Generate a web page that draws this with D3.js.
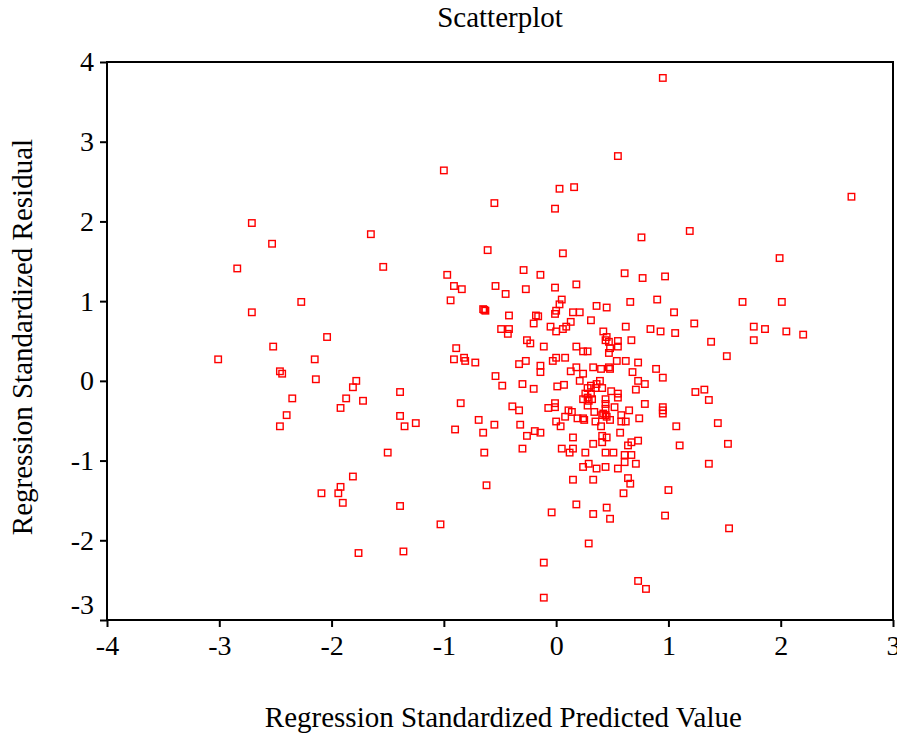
<!DOCTYPE html>
<html>
<head>
<meta charset="utf-8">
<script src="https://cdnjs.cloudflare.com/ajax/libs/d3/7.8.5/d3.min.js"></script>
<style>
  body { margin: 0; background: #fff; }
  text { font-family: "Liberation Serif", "Times New Roman", serif; fill: #000; }
</style>
</head>
<body>
<div id="chart"></div>
<script>
var title = "Scatterplot";
var xTitle = "Regression Standardized Predicted Value";
var yTitle = "Regression Standardized Residual";
var xTicks = [-4, -3, -2, -1, 0, 1, 2, 3];
var yTicks = [-3, -2, -1, 0, 1, 2, 3, 4];

// standardized predicted value (x) of each case
var predicted = [
  -2.71,-2.53,-2.84,-2.27,-2.71,-2.04,-2.52,-3.01,-2.15,-2.46,
  -2.44,-2.14,-2.35,-1.87,-1.92,-2.40,-2.46,-1.81,-1.92,-2.09,
  -1.94,-1.90,-1.78,-1.81,-1.72,-1.39,-1.00,-0.55,-1.65,-0.61,
  -1.54,-0.29,-0.14,-0.97,-0.91,-0.84,-0.54,-0.45,-0.27,-0.94,
  -0.64,-0.65,-0.63,-0.42,-0.18,-0.16,-0.20,-0.05,-0.49,-0.42,
  -0.43,-0.26,-0.23,-0.11,-0.89,-0.91,-0.82,-0.81,-0.72,-0.33,
  -0.27,-0.14,-0.14,-0.54,-0.48,-0.30,-0.20,-0.85,-0.39,-0.33,
  -0.07,-1.39,-1.35,-1.25,-0.69,-0.65,-0.55,-0.90,-0.32,-0.26,
  -0.19,-0.14,-1.50,-0.64,-0.30,-0.62,-1.39,-1.03,-0.04,-1.76,
  -1.36,-0.11,-0.11,0.03,0.16,-0.01,0.06,-0.01,0.05,0.03,
  0.00,-0.01,0.00,0.06,0.09,0.00,0.08,-0.03,0.01,0.07,
  -0.01,-0.01,0.00,0.04,0.05,0.11,0.14,0.08,0.61,0.77,
  0.97,0.18,0.36,0.45,0.66,0.90,1.05,0.15,0.21,0.13,
  0.31,1.23,0.62,0.84,0.93,1.06,0.42,0.44,0.45,0.47,
  0.55,0.67,1.38,0.18,0.24,0.28,0.48,0.55,0.47,1.52,
  0.54,0.62,0.73,0.18,0.13,0.33,0.40,0.47,0.48,0.24,
  0.68,0.89,0.95,0.73,0.79,0.21,0.39,0.36,0.31,0.28,
  0.41,0.35,0.49,0.71,1.32,1.24,0.55,0.55,0.44,0.44,
  0.44,0.24,0.28,0.32,0.31,0.26,0.28,0.29,0.34,0.52,
  0.65,0.79,0.95,0.95,0.95,0.58,0.58,0.62,0.74,0.42,
  0.44,0.45,0.41,0.48,0.24,0.25,0.19,0.35,0.40,1.07,
  1.44,0.57,0.15,0.41,0.45,0.33,0.41,0.67,0.73,0.64,
  1.10,1.53,0.12,0.15,0.26,0.44,0.51,0.61,0.67,0.61,
  0.71,1.36,0.29,0.24,0.36,0.44,0.55,0.15,0.33,0.64,
  0.66,0.60,1.00,0.18,0.45,0.33,0.48,0.97,1.36,0.29,
  0.73,0.80,0.95,0.55,2.63,1.19,0.76,1.99,1.66,2.01,
  1.76,1.86,2.05,2.20,1.76,1.54
];

// standardized residual (y) of each case, same order
var residual = [
  1.98,1.72,1.41,0.99,0.86,0.55,0.43,0.27,0.27,0.12,
  0.09,0.02,-0.22,-0.22,-0.34,-0.43,-0.57,-1.20,-1.33,-1.41,
  -1.41,-1.53,0.00,-0.08,-0.25,-0.14,2.64,2.23,1.84,1.64,
  1.43,1.39,1.33,1.33,1.19,1.15,1.19,1.09,1.15,1.01,
  0.89,0.90,0.88,0.82,0.82,0.81,0.72,0.68,0.65,0.65,
  0.59,0.51,0.47,0.43,0.41,0.27,0.29,0.25,0.23,0.21,
  0.25,0.19,0.11,0.06,-0.06,-0.04,-0.10,-0.28,-0.32,-0.37,
  -0.34,-0.44,-0.57,-0.53,-0.49,-0.65,-0.55,-0.61,-0.55,-0.69,
  -0.63,-0.65,-0.90,-0.90,-0.85,-1.31,-1.57,-1.80,-1.65,-2.16,
  -2.14,-2.28,-2.72,2.41,2.43,2.16,1.60,1.17,1.02,0.96,
  0.88,0.84,0.62,0.65,0.68,0.29,0.29,0.25,-0.07,-0.05,
  -0.28,-0.33,-0.51,-0.57,-0.85,-0.37,-0.39,-0.45,1.35,1.29,
  1.31,1.21,0.94,0.92,0.99,1.02,0.86,0.86,0.86,0.74,
  0.76,0.72,0.68,0.65,0.62,0.60,0.62,0.51,0.55,0.49,
  0.50,0.51,0.49,0.43,0.37,0.37,0.41,0.43,0.35,0.31,
  0.25,0.25,0.23,0.17,0.12,0.17,0.15,0.17,0.15,0.09,
  0.11,0.15,0.04,0.00,-0.04,0.00,0.00,-0.04,-0.06,-0.09,
  -0.09,-0.09,-0.13,-0.11,-0.11,-0.14,-0.16,-0.21,-0.23,-0.29,
  -0.35,-0.23,-0.21,-0.23,-0.16,-0.16,-0.31,-0.25,-0.39,-0.33,
  -0.37,-0.29,-0.33,-0.37,-0.41,-0.43,-0.51,-0.51,-0.47,-0.41,
  -0.43,-0.45,-0.43,-0.49,-0.47,-0.49,-0.47,-0.51,-0.57,-0.57,
  -0.53,-0.65,-0.71,-0.69,-0.71,-0.79,-0.77,-0.77,-0.75,-0.81,
  -0.81,-0.79,-0.90,-0.85,-0.90,-0.90,-0.90,-0.93,-0.93,-1.02,
  -1.04,-1.04,-1.04,-1.08,-1.10,-1.08,-1.10,-1.24,-1.24,-1.22,
  -1.29,-1.41,-1.37,-1.55,-1.59,-1.67,-1.73,-1.69,-0.24,-2.04,
  -2.51,-2.61,3.80,2.82,2.31,1.88,1.80,1.54,0.99,0.99,
  0.68,0.65,0.62,0.58,0.51,-1.85
];

var width = 897;
var height = 738;
var margin = {top: 62, right: 4, bottom: 118, left: 107};
var innerW = width - margin.left - margin.right;
var innerH = height - margin.top - margin.bottom;

var svg = d3.select('#chart')
  .append('svg')
  .attr('width', width)
  .attr('height', height);

var x = d3.scaleLinear().domain([-4, 3]).range([margin.left, margin.left + innerW]);
var y = d3.scaleLinear().domain([-3, 4]).range([margin.top + innerH, margin.top]);

// plain hyphen for negatives, like the original output
var fmt = function(d) { return String(d); };

// title
svg.append('text')
  .attr('x', x(-0.5))
  .attr('y', 27)
  .attr('text-anchor', 'middle')
  .style('font-size', '29px')
  .text(title);

// axes
var xAxis = svg.append('g')
  .attr('transform', 'translate(0,' + y(-3) + ')')
  .call(d3.axisBottom(x).tickValues(xTicks).tickSize(7).tickPadding(8).tickFormat(fmt));

var yAxis = svg.append('g')
  .attr('transform', 'translate(' + x(-4) + ',0)')
  .call(d3.axisLeft(y).tickValues(yTicks).tickSize(7).tickPadding(6).tickFormat(fmt));

[xAxis, yAxis].forEach(function(g) {
  g.select('.domain').remove();
  g.selectAll('.tick line').attr('stroke', '#000').attr('stroke-width', 2);
  g.selectAll('.tick text')
    .style('font-size', '28px')
    .style('font-family', '"Liberation Serif", serif')
    .attr('fill', '#000');
});

// bottom y label sits a bit higher so it clears the x labels
yAxis.selectAll('.tick text')
  .filter(function(d) { return d === -3; })
  .attr('dy', '-0.22em');

// frame
svg.append('rect')
  .attr('x', x(-4))
  .attr('y', y(4))
  .attr('width', x(3) - x(-4))
  .attr('height', y(-3) - y(4))
  .attr('fill', 'none')
  .attr('stroke', '#000')
  .attr('stroke-width', 2);

// points
var points = predicted.map(function(d, i) { return {x: d, y: residual[i]}; });
var s = 6.5;

svg.append('g')
  .selectAll('rect')
  .data(points)
  .enter()
  .append('rect')
  .attr('x', function(d) { return x(d.x) - s / 2; })
  .attr('y', function(d) { return y(d.y) - s / 2; })
  .attr('width', s)
  .attr('height', s)
  .attr('fill', 'none')
  .attr('stroke', '#ff0000')
  .attr('stroke-width', 1.4);

// axis titles
svg.append('text')
  .attr('x', x(-0.47))
  .attr('y', 727)
  .attr('text-anchor', 'middle')
  .style('font-size', '29px')
  .text(xTitle);

svg.append('text')
  .attr('transform', 'translate(32,' + y(0.55) + ') rotate(-90)')
  .attr('text-anchor', 'middle')
  .style('font-size', '29px')
  .text(yTitle);
</script>
</body>
</html>
